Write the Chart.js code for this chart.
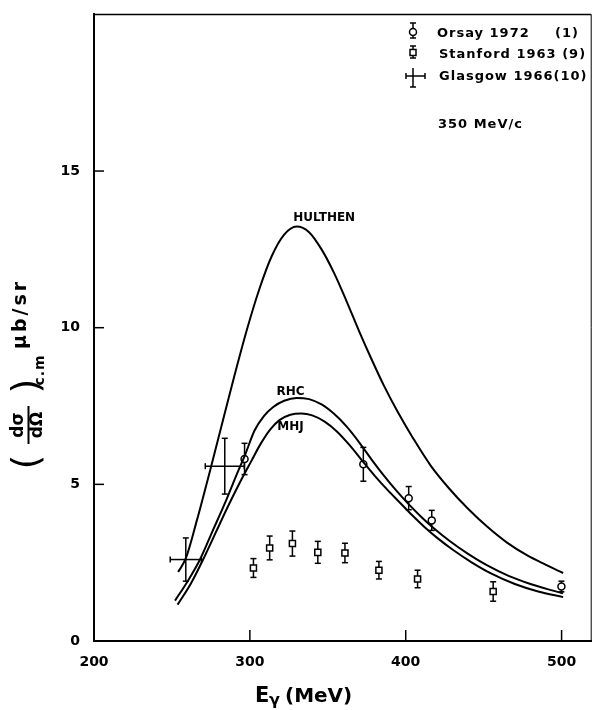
<!DOCTYPE html>
<html>
<head>
<meta charset="utf-8">
<script src="https://cdn.jsdelivr.net/npm/chart.js@4.4.0/dist/chart.umd.min.js"></script>
<style>
  html, body { margin: 0; padding: 0; background: #fff; }
</style>
</head>
<body>
<canvas id="xs-chart" width="597" height="710"></canvas>
<script>
// photon energy ticks (MeV) and cross-section ticks (ub/sr)
const energyTicks = [200, 300, 400, 500];
const xsTicks = [0, 5, 10, 15];

// Orsay 1972 (1)
const orsayE   = [296.6, 372.8, 401.9, 416.7, 499.9];
const orsayXs  = [5.81, 5.64, 4.56, 3.85, 1.74];
const orsayErr = [0.50, 0.54, 0.37, 0.32, 0.17];

// Stanford 1963 (9)
const stanfordE   = [302.3, 312.7, 327.3, 343.6, 361.0, 382.8, 407.6, 456.1];
const stanfordXs  = [2.33, 2.97, 3.11, 2.83, 2.81, 2.26, 1.98, 1.58];
const stanfordErr = [0.30, 0.38, 0.40, 0.35, 0.31, 0.28, 0.28, 0.31];

// Glasgow 1966 (10)
const glasgowE    = [258.9, 283.9];
const glasgowXs   = [2.60, 5.58];
const glasgowEErr = [10, 12.5];
const glasgowErr  = [0.69, 0.89];

// model curves
const hulthenE  = [254, 259, 266, 274, 282, 290, 298, 306, 314, 322, 330, 338, 346, 354, 362, 370, 378, 386, 395, 405, 416, 428, 440, 452, 465, 478, 490, 501];
const hulthenXs = [2.2, 2.65, 3.85, 5.35, 6.9, 8.45, 9.92, 11.22, 12.28, 12.97, 13.23, 13.05, 12.5, 11.75, 10.85, 9.9, 9.0, 8.15, 7.3, 6.45, 5.6, 4.86, 4.22, 3.66, 3.14, 2.73, 2.43, 2.17];

const rhcE  = [252, 260, 268, 276, 284, 291, 297, 303, 309, 315, 322, 330, 338, 346, 354, 362, 370, 378, 386, 394, 402, 410, 418, 428, 440, 452, 466, 480, 492, 501];
const rhcXs = [1.29, 1.9, 2.6, 3.5, 4.4, 5.25, 5.95, 6.72, 7.18, 7.47, 7.67, 7.76, 7.72, 7.55, 7.25, 6.85, 6.35, 5.8, 5.28, 4.8, 4.36, 3.96, 3.6, 3.2, 2.78, 2.42, 2.08, 1.82, 1.64, 1.52];

const mhjE  = [253.6, 262, 270, 278, 286, 294, 301, 307, 313, 319, 326, 333, 340, 348, 356, 364, 372, 380, 388, 396, 404, 412, 420, 430, 442, 455, 470, 485, 501];
const mhjXs = [1.16, 1.82, 2.6, 3.45, 4.3, 5.1, 5.75, 6.3, 6.75, 7.05, 7.22, 7.26, 7.2, 7.0, 6.68, 6.25, 5.76, 5.28, 4.84, 4.43, 4.02, 3.64, 3.3, 2.92, 2.52, 2.15, 1.82, 1.58, 1.40];

// curve names, placed in data coordinates
const curveLabels = [
  { text: 'HULTHEN', x: 347.7, y: 13.41 },
  { text: 'RHC', x: 326.1, y: 7.85 },
  { text: 'MHJ', x: 326.1, y: 6.72 },
];

const FONT = '"DejaVu Sans", sans-serif';

const pts = (xs, ys) => xs.map((x, i) => ({ x: x, y: ys[i] }));

function line(ctx, x1, y1, x2, y2) {
  ctx.beginPath();
  ctx.moveTo(x1, y1);
  ctx.lineTo(x2, y2);
  ctx.stroke();
}

function curve(data) {
  return {
    type: 'line',
    data: data,
    borderColor: '#000',
    borderWidth: 2,
    pointRadius: 0,
    fill: false,
    cubicInterpolationMode: 'monotone',
  };
}

// vertical (and horizontal) error bars with small caps
const errorBars = {
  id: 'errorBars',
  beforeDatasetsDraw(chart) {
    const { ctx, scales: { x, y } } = chart;
    const cap = 3;
    ctx.save();
    ctx.strokeStyle = '#000';
    ctx.lineWidth = 1.5;
    chart.data.datasets.forEach(ds => {
      if (!ds.yErr) return;
      ds.data.forEach((p, i) => {
        const px = x.getPixelForValue(p.x);
        const py = y.getPixelForValue(p.y);
        const top = y.getPixelForValue(p.y + ds.yErr[i]);
        const bot = y.getPixelForValue(p.y - ds.yErr[i]);
        line(ctx, px, top, px, bot);
        line(ctx, px - cap, top, px + cap, top);
        line(ctx, px - cap, bot, px + cap, bot);
        if (ds.xErr) {
          const l = x.getPixelForValue(p.x - ds.xErr[i]);
          const r = x.getPixelForValue(p.x + ds.xErr[i]);
          line(ctx, l, py, r, py);
          line(ctx, l, py - cap, l, py + cap);
          line(ctx, r, py - cap, r, py + cap);
        }
      });
    });
    ctx.restore();
  }
};

// frame, inward tick marks, titles, legend and annotations
const decorations = {
  id: 'decorations',
  afterDraw(chart) {
    const { ctx, chartArea: a, scales: { x, y } } = chart;
    ctx.save();
    ctx.strokeStyle = '#000';
    ctx.fillStyle = '#000';

    // top and right frame
    ctx.lineWidth = 1.5;
    line(ctx, a.left, a.top, a.right, a.top);
    ctx.lineWidth = 1;
    line(ctx, a.right, a.top, a.right, a.bottom);

    // ticks pointing into the plot
    ctx.lineWidth = 1.5;
    energyTicks.slice(1).forEach(v => {
      const px = x.getPixelForValue(v);
      line(ctx, px, a.bottom, px, a.bottom - 11);
    });
    xsTicks.slice(1).forEach(v => {
      const py = y.getPixelForValue(v);
      line(ctx, a.left, py, a.left + 10, py);
    });

    // curve names
    ctx.font = 'bold 12px ' + FONT;
    ctx.textAlign = 'center';
    ctx.textBaseline = 'alphabetic';
    curveLabels.forEach(l => {
      ctx.fillText(l.text, x.getPixelForValue(l.x), y.getPixelForValue(l.y));
    });

    // legend
    ctx.textAlign = 'left';
    ctx.font = 'bold 13px ' + FONT;
    ctx.letterSpacing = '1px';
    ctx.fillText('Orsay 1972', 437, 37);
    ctx.fillText('(1)', 555, 37);
    ctx.fillText('Stanford 1963 (9)', 439, 58);
    ctx.fillText('Glasgow 1966(10)', 439, 80);
    ctx.fillText('350 MeV/c', 438, 128);
    ctx.letterSpacing = '0px';

    ctx.lineWidth = 1.5;
    // circle symbol
    line(ctx, 413, 23, 413, 38);
    line(ctx, 410, 23, 416, 23);
    line(ctx, 410, 38, 416, 38);
    ctx.beginPath();
    ctx.arc(413, 32, 3.5, 0, Math.PI * 2);
    ctx.fillStyle = '#fff';
    ctx.fill();
    ctx.stroke();
    // square symbol
    line(ctx, 413, 46, 413, 58);
    line(ctx, 410, 46, 416, 46);
    line(ctx, 410, 58, 416, 58);
    ctx.fillRect(410, 49.5, 6, 6);
    ctx.strokeRect(410, 49.5, 6, 6);
    // cross symbol
    ctx.fillStyle = '#000';
    line(ctx, 413, 68, 413, 87);
    line(ctx, 410, 87, 416, 87);
    line(ctx, 406, 76, 425, 76);
    line(ctx, 406, 73, 406, 79);
    line(ctx, 425, 73, 425, 79);

    // x title: E_gamma (MeV)
    ctx.font = 'bold 21px ' + FONT;
    ctx.fillText('E', 255, 702);
    ctx.font = 'bold 16px ' + FONT;
    ctx.fillText('\u03b3', 269, 705);
    ctx.font = 'bold 20px ' + FONT;
    ctx.fillText('(MeV)', 285, 702);

    // y title: (d sigma / d Omega)_c.m  ub/sr, rotated
    ctx.translate(28, 422);
    ctx.rotate(-Math.PI / 2);
    ctx.textAlign = 'center';
    ctx.textBaseline = 'middle';
    ctx.font = '38px ' + FONT;
    ctx.fillText('(', -40, 0);
    ctx.fillText(')', 36, 0);
    ctx.font = 'bold 17px ' + FONT;
    ctx.fillText('d\u03c3', -3, -9);
    ctx.fillText('d\u03a9', -3, 10);
    ctx.lineWidth = 2;
    line(ctx, -22, 0.5, 16, 0.5);
    ctx.font = 'bold 14px ' + FONT;
    ctx.letterSpacing = '1px';
    ctx.fillText('c.m', 52, 12);
    ctx.font = 'bold 19px ' + FONT;
    ctx.letterSpacing = '3px';
    ctx.fillText('\u03bcb/sr', 108, -7);
    ctx.restore();
  }
};

const data = {
  datasets: [
    curve(pts(hulthenE, hulthenXs)),
    curve(pts(rhcE, rhcXs)),
    curve(pts(mhjE, mhjXs)),
    {
      type: 'scatter',
      data: pts(orsayE, orsayXs),
      yErr: orsayErr,
      pointStyle: 'circle',
      pointRadius: 3.5,
      borderColor: '#000',
      borderWidth: 1.5,
      backgroundColor: '#fff',
    },
    {
      type: 'scatter',
      data: pts(stanfordE, stanfordXs),
      yErr: stanfordErr,
      pointStyle: 'rect',
      pointRadius: 4.3,
      borderColor: '#000',
      borderWidth: 1.5,
      backgroundColor: '#fff',
    },
    {
      type: 'scatter',
      data: pts(glasgowE, glasgowXs),
      yErr: glasgowErr,
      xErr: glasgowEErr,
      pointRadius: 0,
    },
  ]
};

const config = {
  type: 'scatter',
  data: data,
  plugins: [errorBars, decorations],
  options: {
    responsive: false,
    animation: false,
    layout: { padding: { top: 7, right: 1, left: 0, bottom: 0 } },
    plugins: { legend: { display: false }, tooltip: { enabled: false } },
    scales: {
      x: {
        type: 'linear',
        min: 200,
        max: 519,
        afterBuildTicks: s => { s.ticks = energyTicks.map(v => ({ value: v })); },
        afterFit: s => { s.height = 69; },
        grid: { display: false },
        border: { display: true, color: '#000', width: 2 },
        ticks: { color: '#000', padding: 5, maxRotation: 0, font: { family: FONT, size: 14, weight: 'bold' } },
      },
      y: {
        type: 'linear',
        min: 0,
        max: 20,
        afterBuildTicks: s => { s.ticks = xsTicks.map(v => ({ value: v })); },
        afterFit: s => { s.width = 94; },
        grid: { display: false },
        border: { display: true, color: '#000', width: 2 },
        ticks: { color: '#000', padding: 6, font: { family: FONT, size: 14, weight: 'bold' } },
      }
    }
  }
};

const myChart = new Chart(document.getElementById('xs-chart'), config);
</script>
</body>
</html>
